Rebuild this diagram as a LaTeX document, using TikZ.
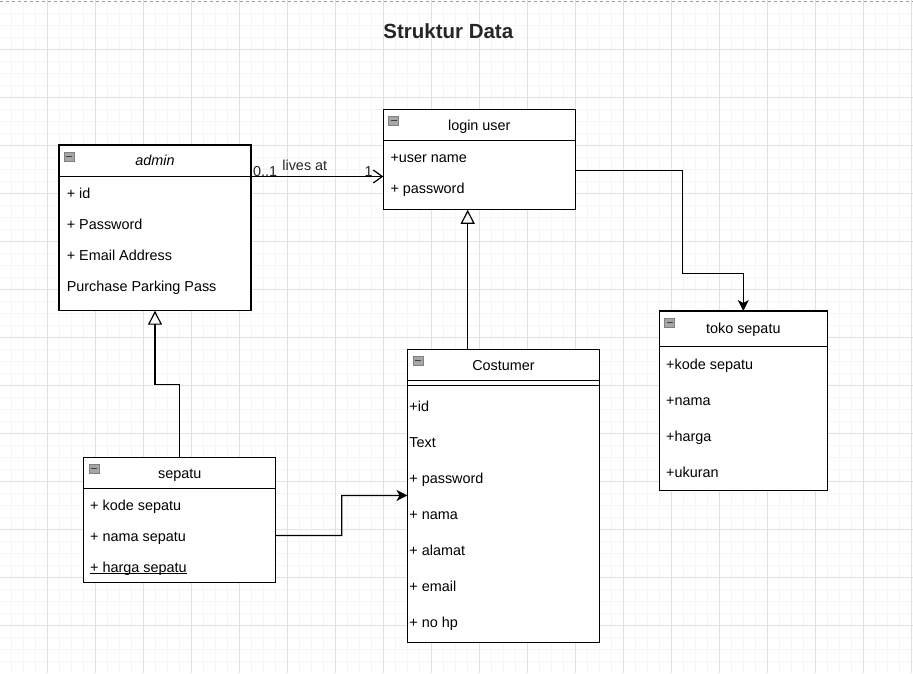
\documentclass[tikz,border=0pt]{standalone}
\usepackage{fontspec}
\setmainfont{Liberation Sans}
\usetikzlibrary{positioning,arrows.meta,calc}
\definecolor{GridMinor}{RGB}{246,246,246}
\definecolor{GridMajor}{RGB}{225,225,225}

\begin{document}
\begin{tikzpicture}[x=1pt,y=-1pt,
 font=\fontsize{14.4}{17}\selectfont,
 box/.style={draw,line width=1.2pt,fill=white,inner sep=0pt,outer sep=0pt,text height=13pt,text depth=3pt},
 hd/.style={box,anchor=north west,minimum width=192pt,minimum height=31.5pt},
 bd/.style={box,minimum width=192pt},
 item/.style={anchor=west,inner sep=0pt,text height=13pt,text depth=3pt},
 lbl/.style={inner sep=0pt,text=black!85},
 icon/.style={draw=black!50,fill=black!35,anchor=north west,inner sep=0pt,minimum width=10pt,minimum height=9pt,
   path picture={\draw[black!75,line width=1.2pt] ([xshift=2pt]path picture bounding box.west)--([xshift=-2pt]path picture bounding box.east);}},
 flow/.style={-{Stealth[length=11pt,width=11pt,inset=3pt]},line width=1.2pt},
 inh/.style={-{Triangle[open,length=14pt,width=14pt]},line width=1.2pt},
 assoc/.style={-{Straight Barb[length=9pt,width=13pt]},line width=1.2pt}]
\useasboundingbox (0,0) rectangle (913,673);
% grid
\fill[white] (0,0) rectangle (913,673);
\foreach \g in {11.3,23.3,...,913} \draw[GridMinor,line width=0.8pt] (\g,0)--(\g,673);
\foreach \g in {13.3,25.3,...,673} \draw[GridMinor,line width=0.8pt] (0,\g)--(913,\g);
\foreach \g in {47.3,95.3,...,913} \draw[GridMajor,line width=0.8pt] (\g,0)--(\g,673);
\foreach \g in {49.3,97.3,...,673} \draw[GridMajor,line width=0.8pt] (0,\g)--(913,\g);
\draw[black!40,dashed,line width=0.8pt] (0,1.3)--(913,1.3);

\node[anchor=base,font=\fontsize{20.5}{24}\selectfont\bfseries,text=black!85] (title) at (448.3,38.3) {Struktur Data};

% classes
\node[hd] (loginH) at (383.3,109.3) {login user};
\node[bd,minimum height=69pt,below=0pt of loginH] (loginB) {};
\node[hd] (admH) at (59,145) {\itshape admin};
\node[bd,minimum height=134.2pt,below=0pt of admH] (admB) {};
\node[hd,minimum width=168pt,minimum height=35.7pt] (tokoH) at (659.3,311) {toko sepatu};
\node[bd,minimum width=168pt,minimum height=144pt,below=0pt of tokoH] (tokoB) {};
\node[hd] (custH) at (407.5,349.3) {Costumer};
\node[bd,minimum height=261.3pt,below=0pt of custH] (custB) {};
\draw[line width=1.2pt] ([yshift=-4.3pt]custB.north west)--([yshift=-4.3pt]custB.north east);
\node[hd] (sepH) at (83.8,457.3) {sepatu};
\node[bd,minimum height=93.4pt,below=0pt of sepH] (sepB) {};

\node[icon] (loginI) at ([xshift=5pt,yshift=-6.5pt]loginH.north west) {};
\node[icon] (admI) at ([xshift=5pt,yshift=-6.5pt]admH.north west) {};
\node[icon] (tokoI) at ([xshift=5pt,yshift=-6.5pt]tokoH.north west) {};
\node[icon] (custI) at ([xshift=5pt,yshift=-6.5pt]custH.north west) {};
\node[icon] (sepI) at ([xshift=5pt,yshift=-6.5pt]sepH.north west) {};

% attributes
\foreach \t [count=\i from 0] in {+user name,+ password}
  \node[item] (loginA\i) at (390.3,{157+31*\i}) {\t};
\foreach \t [count=\i from 0] in {+ id,+ Password,+ Email Address,Purchase Parking Pass}
  \node[item] (admA\i) at (66.6,{193.3+31*\i}) {\t};
\foreach \t [count=\i from 0] in {+kode sepatu,+nama,+harga,+ukuran}
  \node[item] (tokoA\i) at (666,{364+36*\i}) {\t};
\foreach \t [count=\i from 0] in {+id,Text,+ password,+ nama,+ alamat,+ email,+ no hp}
  \node[item] (custA\i) at (409.2,{406.7+36*\i}) {\t};
\foreach \t [count=\i from 0] in {+ kode sepatu,+ nama sepatu,{\underline{\smash{+ harga sepatu}}}}
  \node[item] (sepA\i) at (90,{505+31*\i}) {\t};

% connectors
\draw[assoc] (admB.north east)--(admB.north east -| loginB.west)
  node[lbl,pos=0,anchor=base west,xshift=1.5pt] (multA) {0..1}
  node[lbl,pos=0,anchor=base west,xshift=30.8pt,yshift=6.3pt] (livesAt) {lives at}
  node[lbl,pos=1,anchor=base east,xshift=-10pt] (multB) {1};
\draw[flow] ([yshift=5.2pt]loginB.east) -| ++(107,103) -| (tokoH.north);
\draw[inh] ([xshift=60.2pt]custH.north west)--([xshift=60.2pt]custH.north west |- loginB.south);
\draw[inh] (sepH.north)--++(0,-73) -| (admB.south);
\draw[flow] (sepB.east) -| ++(66,-40)--([yshift=16pt]custB.west);
\end{tikzpicture}
\end{document}
